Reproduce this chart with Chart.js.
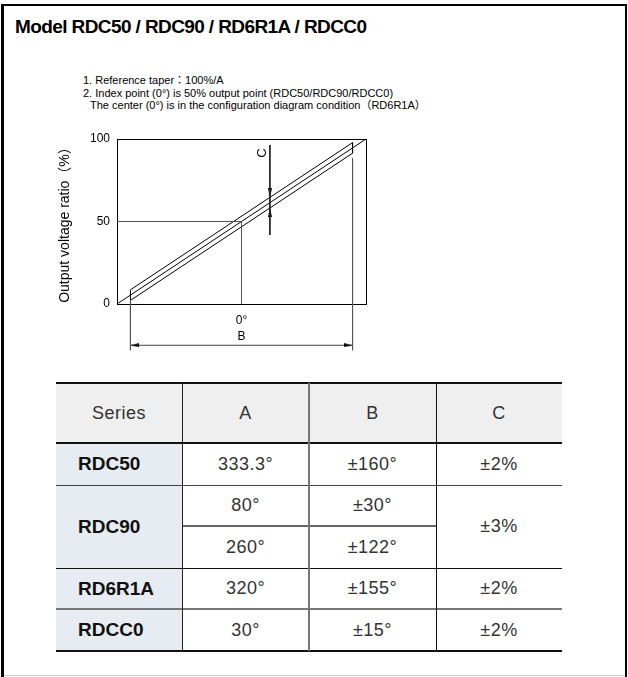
<!DOCTYPE html>
<html>
<head>
<meta charset="utf-8">
<script src="https://cdn.jsdelivr.net/npm/chart.js@4/dist/chart.umd.min.js"></script>
<style>
html, body { margin: 0; padding: 0; background: #fff; }
body { width: 628px; height: 677px; position: relative; overflow: hidden;
  font-family: "Liberation Sans", Arial, "Noto Sans CJK JP", sans-serif; color: #000; }
#frame { position: absolute; left: 1px; top: 4px; width: 621px; height: 700px;
  border-left: 3px solid #000; border-top: 2px solid #000; border-right: 2px solid #000; }
#bottomline { position: absolute; left: 4px; top: 675px; width: 621px; height: 1px; background: #ccc; }
#title { position: absolute; left: 15px; top: 17px; font-size: 19px; line-height: 19px;
  font-weight: bold; letter-spacing: -0.6px; white-space: nowrap; }
#notes { position: absolute; left: 83px; top: 74px; font-size: 11px; line-height: 12.5px; white-space: nowrap; }
#notes .indent { padding-left: 7px; }
#chartbox { position: absolute; left: 0; top: 120px; width: 400px; height: 240px; }
.cell { position: absolute; display: flex; align-items: center; justify-content: center;
  font-size: 18px; letter-spacing: 0.5px; color: #333; box-sizing: border-box; }
.name { justify-content: flex-start; padding-left: 22px; font-weight: bold; color: #111; letter-spacing: 0; font-size: 19px; }
.rule { position: absolute; }
</style>
</head>
<body>
<div id="frame"></div>
<div id="bottomline"></div>
<div id="title">Model RDC50 / RDC90 / RD6R1A / RDCC0</div>
<div id="notes">
  <div>1. Reference taper：100%/A</div>
  <div>2. Index point (0°) is 50% output point (RDC50/RDC90/RDCC0)</div>
  <div class="indent">The center (0°) is in the configuration diagram condition（RD6R1A）</div>
</div>
<div id="chartbox"><canvas id="chart" width="400" height="240"></canvas></div>
<div id="table"></div>

<script>
// ----- data (chart: x = % of effective angle A, 0 = index point; y = output %) -----
const taperX = [-50, 50];
const taperY = [0, 100];
const bandX = [-44.6, -44.6, 44.6, 44.6, -44.6];
const bandY = [2.2, 8.6, 97.8, 91.4, 2.2];
const indexX = [-50, 0, 0];
const indexY = [50, 50, 0];
const extLeftX = [-44.6, -44.6];
const extLeftY = [2.2, -28];
const extRightX = [44.6, 44.6];
const extRightY = [88.5, -28];
const dimBX = [-44.6, 44.6];
const dimBY = [-25, -25];
const dimCX = [11.4, 11.4];
const dimCY = [96.4, 41.8];
const arrowX = [11.4, 11.4, -44.6, 44.6];
const arrowY = [64.7, 58.2, -25, -25];
const arrowDir = [180, 0, 270, 90];
const labelC = { x: 8.6, y: 91.5, text: 'C' };
const yTicks = [0, 50, 100];

// ----- table data -----
const tableHead = ['Series', 'A', 'B', 'C'];
const seriesNames = ['RDC50', 'RDC90', 'RD6R1A', 'RDCC0'];
const angleA = [['333.3°'], ['80°', '260°'], ['320°'], ['30°']];
const rangeB = [['±160°'], ['±30°', '±122°'], ['±155°'], ['±15°']];
const linearityC = ['±2%', '±3%', '±2%', '±2%'];

function pts(xs, ys) { return xs.map((x, i) => ({ x: x, y: ys[i] })); }

// small arrow head, tip at the image centre, pointing up
function arrowHead(len, w) {
  const c = document.createElement('canvas');
  c.width = w; c.height = len * 2;
  const g = c.getContext('2d');
  g.fillStyle = '#000';
  g.beginPath();
  g.moveTo(w / 2, len);
  g.lineTo(w, len * 2);
  g.lineTo(0, len * 2);
  g.closePath();
  g.fill();
  return c;
}
const arrowImg = arrowHead(9, 4);

Chart.defaults.font.family = '"Liberation Sans", Arial, "Noto Sans CJK JP", sans-serif';
Chart.defaults.color = '#000';

const line = (data, color) => ({
  data: data, showLine: true, borderColor: color, borderWidth: 1,
  pointRadius: 0, fill: false, clip: false
});

const ARROWS = 7;

const framePlugin = {
  id: 'frame',
  beforeDatasetsDraw(chart) {
    const a = chart.chartArea, ctx = chart.ctx;
    ctx.save();
    ctx.strokeStyle = '#000';
    ctx.lineWidth = 1;
    ctx.strokeRect(Math.round(a.left) + 0.5, Math.round(a.top) + 0.5,
      Math.round(a.right - a.left), Math.round(a.bottom - a.top));
    ctx.restore();
  },
  afterDatasetsDraw(chart) {
    const ctx = chart.ctx;
    // arrow heads that sit below the plot area are skipped by chart.js, draw them here
    const whole = { left: 0, top: 0, right: chart.width, bottom: chart.height };
    chart.getDatasetMeta(ARROWS).data.forEach(el => {
      if (el.y > chart.chartArea.bottom + 2) el.draw(ctx, whole);
    });
    const px = chart.scales.x.getPixelForValue(labelC.x);
    const py = chart.scales.y.getPixelForValue(labelC.y);
    ctx.save();
    ctx.translate(px, py);
    ctx.rotate(-Math.PI / 2);
    ctx.font = '13px "Liberation Sans", Arial, sans-serif';
    ctx.fillStyle = '#000';
    ctx.textAlign = 'center';
    ctx.textBaseline = 'middle';
    ctx.fillText(labelC.text, 0, 0);
    ctx.restore();
  }
};

new Chart(document.getElementById('chart'), {
  type: 'scatter',
  data: {
    datasets: [
      line(pts(indexX, indexY), '#555'),
      line(pts(extLeftX, extLeftY), '#555'),
      line(pts(extRightX, extRightY), '#555'),
      line(pts(dimBX, dimBY), '#444'),
      line(pts(dimCX, dimCY), '#222'),
      line(pts(taperX, taperY), '#000'),
      line(pts(bandX, bandY), '#000'),
      {
        data: pts(arrowX, arrowY), showLine: false, clip: false,
        pointStyle: arrowImg, pointRotation: arrowDir, pointRadius: 5
      }
    ]
  },
  options: {
    responsive: false,
    animation: false,
    events: [],
    layout: { padding: { left: 57, top: 19, right: 34, bottom: 0 } },
    plugins: { legend: { display: false }, tooltip: { enabled: false } },
    scales: {
      x: {
        type: 'linear', min: -50, max: 50,
        grid: { display: false, drawTicks: false },
        border: { display: false },
        afterBuildTicks: axis => { axis.ticks = [{ value: 0 }]; },
        afterFit: axis => { axis.height = 56; },
        ticks: { padding: 9, font: { size: 12 }, callback: () => '0°' },
        title: { display: true, text: 'B', font: { size: 12 }, padding: { top: 0, bottom: 16 } }
      },
      y: {
        type: 'linear', min: 0, max: 100,
        grid: { display: false, drawTicks: false },
        border: { display: false },
        afterBuildTicks: axis => { axis.ticks = yTicks.map(v => ({ value: v })); },
        afterFit: axis => { axis.width = 60; },
        ticks: { padding: 7, font: { size: 12 } },
        title: { display: true, text: 'Output voltage ratio（%）', font: { size: 14 }, padding: 0 }
      }
    }
  },
  plugins: [framePlugin]
});

// ----- table -----
const colEdges = [56, 182, 309, 436, 562];
const headTop = 383, headBottom = 443;
const subRowEdges = [443, 485, 526, 568, 609, 651];
const table = document.getElementById('table');

function box(x0, y0, x1, y1, css, html) {
  const d = document.createElement('div');
  d.className = css;
  d.style.left = x0 + 'px'; d.style.top = y0 + 'px';
  d.style.width = (x1 - x0) + 'px'; d.style.height = (y1 - y0) + 'px';
  if (html !== undefined) d.textContent = html;
  table.appendChild(d);
  return d;
}

// backgrounds
box(colEdges[0], headTop, colEdges[4], headBottom, 'rule').style.background = '#efefef';
box(colEdges[0], headBottom, colEdges[1], subRowEdges[5], 'rule').style.background = '#e6ecf2';

tableHead.forEach((t, i) => box(colEdges[i], headTop, colEdges[i + 1], headBottom, 'cell', t));

let r = 0;
seriesNames.forEach((name, s) => {
  const n = angleA[s].length;
  const y0 = subRowEdges[r], y1 = subRowEdges[r + n];
  box(colEdges[0], y0, colEdges[1], y1, 'cell name', name);
  for (let k = 0; k < n; k++) {
    box(colEdges[1], subRowEdges[r + k], colEdges[2], subRowEdges[r + k + 1], 'cell', angleA[s][k]);
    box(colEdges[2], subRowEdges[r + k], colEdges[3], subRowEdges[r + k + 1], 'cell', rangeB[s][k]);
    if (k > 0) {
      const d = box(colEdges[1], subRowEdges[r + k] - 1, colEdges[3], subRowEdges[r + k] + 1, 'rule');
      d.style.background = '#666';
    }
  }
  box(colEdges[3], y0, colEdges[4], y1, 'cell', linearityC[s]);
  r += n;
});

// horizontal rules
function hrule(y, h, color, x0, x1) {
  box(x0 === undefined ? colEdges[0] : x0, y - h / 2, x1 === undefined ? colEdges[4] : x1, y + h / 2, 'rule')
    .style.background = color;
}
hrule(headTop, 2.5, '#111');
hrule(headBottom, 2.5, '#111');
hrule(485, 1, '#444');
hrule(568, 1, '#111');
hrule(609, 1.5, '#777');
hrule(651, 2.5, '#111');
// vertical rules
[['#222', 1], ['#777', 1.5], ['#111', 1]].forEach((v, i) => {
  const x = colEdges[i + 1];
  box(x - v[1] / 2, headTop, x + v[1] / 2, subRowEdges[5], 'rule').style.background = v[0];
});
</script>
</body>
</html>
